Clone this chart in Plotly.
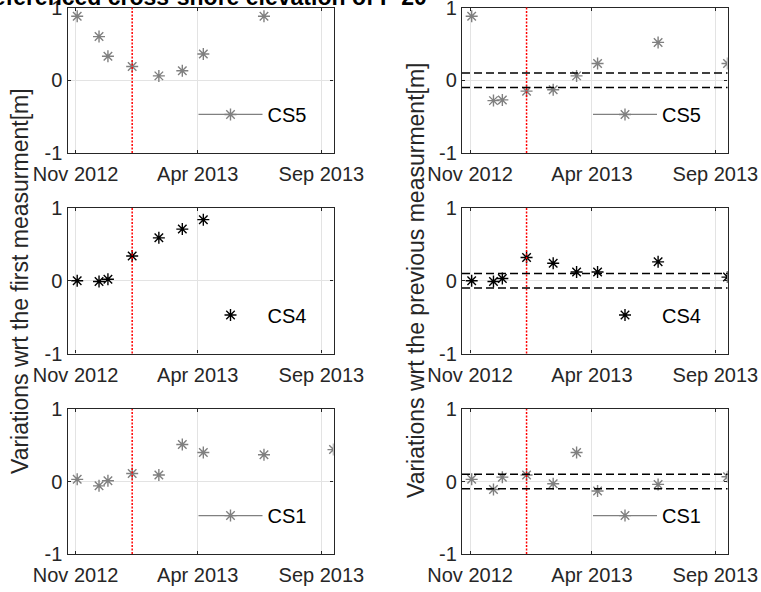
import plotly.graph_objects as go

# Survey dates (one measurement campaign each)
dates = ["2012-11-03", "2012-11-30", "2012-12-11", "2013-01-10", "2013-02-12",
         "2013-03-13", "2013-04-08", "2013-06-22", "2013-09-16"]

# Elevation variations [m] with respect to the first measurement
cs5_first = [0.88, 0.60, 0.33, 0.19, 0.06, 0.13, 0.36, 0.88, None]
cs4_first = [0.00, -0.01, 0.02, 0.34, 0.59, 0.71, 0.84, None, None]
cs1_first = [0.03, -0.06, 0.01, 0.11, 0.09, 0.51, 0.40, 0.37, 0.44]

# Elevation variations [m] with respect to the previous measurement
cs5_prev = [0.88, -0.28, -0.27, -0.15, -0.13, 0.06, 0.23, 0.52, 0.23]
cs4_prev = [0.00, -0.01, 0.03, 0.32, 0.24, 0.12, 0.12, 0.26, 0.05]
cs1_prev = [0.03, -0.11, 0.06, 0.09, -0.03, 0.40, -0.13, -0.04, 0.065]

section_names = ["CS5", "CS4", "CS1"]
section_colors = ["#808080", "#000000", "#808080"]
section_modes = ["lines+markers", "markers", "lines+markers"]

storm_date = "2013-01-10"          # event marked with the red dotted line
tolerance = [0.1, -0.1]           # measurement accuracy band
x_range = ["2012-10-22", "2013-09-16"]
x_ticks = ["2012-11-01", "2013-04-01", "2013-09-01"]
x_ticktext = ["Nov 2012", "Apr 2013", "Sep 2013"]
y_ticks = [-1, 0, 1]
y_ticktext = ["-1", "0", "1"]

title_text = "Georeferenced cross-shore elevation of P 20"
ylabel_left = "Variations wrt the first measurment[m]"
ylabel_right = "Variations wrt the previous measurment[m]"

FONT = "Liberation Sans, Arial, sans-serif"
AXC = "#262626"
W, H = 761, 592

# panel boxes in pixels: (left, right, top, bottom)
cols = [(67.5, 333.5), (462, 727.5)]
rows = [(7.5, 153), (208, 353.5), (409, 554)]

first_series = [cs5_first, cs4_first, cs1_first]
prev_series = [cs5_prev, cs4_prev, cs1_prev]

fig = go.Figure()
layout = dict(
    width=W, height=H,
    margin=dict(l=0, r=0, t=0, b=0, autoexpand=False),
    paper_bgcolor="white", plot_bgcolor="white",
    font=dict(family=FONT, size=20, color=AXC),
    showlegend=True,
)
shapes = []

idx = 0
for r, (top, bot) in enumerate(rows):
    for c, (left, right) in enumerate(cols):
        idx += 1
        sfx = "" if idx == 1 else str(idx)
        xa, ya = "x" + sfx, "y" + sfx
        legend_name = "legend" + sfx
        data = first_series[r] if c == 0 else prev_series[r]
        color = section_colors[r]

        layout["xaxis" + sfx] = dict(
            domain=[left / W, right / W], anchor=ya, type="date",
            range=x_range, tickvals=x_ticks, ticktext=x_ticktext,
            showgrid=True, gridcolor="#e3e3e3", gridwidth=1,
            showline=True, linecolor=AXC, linewidth=1.2, mirror="ticks",
            ticks="inside", ticklen=3, tickcolor=AXC, automargin=False,
            ticklabelstandoff=3, ticklabeloverflow="allow",
            zeroline=False, tickfont=dict(size=20, color=AXC),
        )
        layout["yaxis" + sfx] = dict(
            domain=[1 - bot / H, 1 - top / H], anchor=xa,
            range=[-1, 1], tickvals=y_ticks, ticktext=y_ticktext,
            showgrid=True, gridcolor="#e3e3e3", gridwidth=1,
            showline=True, linecolor=AXC, linewidth=1.2, mirror="ticks",
            ticks="inside", ticklen=3, tickcolor=AXC, automargin=False,
            ticklabeloverflow="allow",
            zeroline=False, tickfont=dict(size=20, color=AXC),
        )

        marker = dict(symbol="asterisk-open", size=10, color=color,
                      line=dict(color=color, width=1.4))
        fig.add_trace(go.Scatter(
            x=dates, y=data, mode="markers", marker=marker,
            xaxis=xa, yaxis=ya, showlegend=False, cliponaxis=True,
        ))
        # legend entry for the section
        fig.add_trace(go.Scatter(
            x=[None], y=[None], mode=section_modes[r],
            name=section_names[r],
            line=dict(color=color, width=1.3), marker=marker,
            xaxis=xa, yaxis=ya, legend=legend_name,
        ))
        legend_y = 1 - (top + 0.735 * (bot - top)) / H
        layout[legend_name] = dict(
            x=(left + 126) / W, y=legend_y, xanchor="left", yanchor="middle",
            bgcolor="rgba(0,0,0,0)", borderwidth=0, itemwidth=64,
            font=dict(size=20, color="#000000"),
        )

        shapes.append(dict(
            type="line", xref=xa, yref=ya + " domain",
            x0=storm_date, x1=storm_date, y0=0, y1=1,
            line=dict(color="#ff0000", width=1.5, dash="2px,1.5px"),
        ))
        if c == 1:
            for t in tolerance:
                shapes.append(dict(
                    type="line", xref=xa + " domain", yref=ya,
                    x0=0, x1=1, y0=t, y1=t,
                    line=dict(color="#000000", width=1.6, dash="8px,4px"),
                ))

layout["shapes"] = shapes
layout["annotations"] = [
    dict(text="<b>" + title_text + "</b>", xref="paper", yref="paper",
         x=429 / W, y=1 - 12 / H, xanchor="right", yanchor="bottom",
         showarrow=False, font=dict(size=23, color="#000000", family=FONT)),
    dict(text=ylabel_left, xref="paper", yref="paper",
         x=20 / W, y=1 - 281 / H, xanchor="center", yanchor="middle",
         textangle=-90, showarrow=False, font=dict(size=23, color=AXC)),
    dict(text=ylabel_right, xref="paper", yref="paper",
         x=416 / W, y=1 - 281 / H, xanchor="center", yanchor="middle",
         textangle=-90, showarrow=False, font=dict(size=23, color=AXC)),
]

fig.update_layout(**layout)
fig.write_html("out.html")
